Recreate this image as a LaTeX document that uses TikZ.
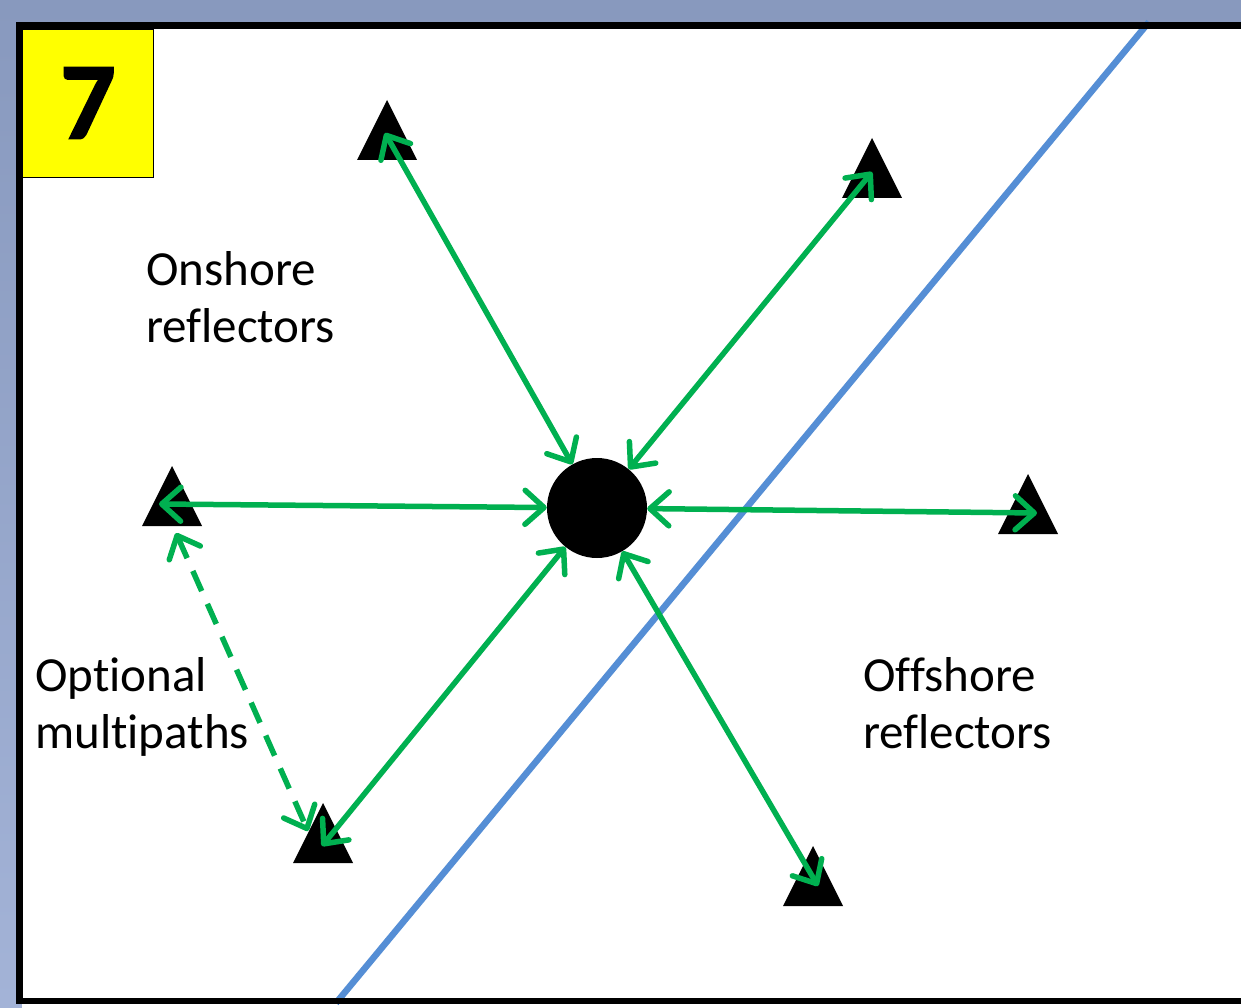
\documentclass[tikz,border=0pt]{standalone}
\usepackage{fontspec}
\setmainfont{Carlito}[Ligatures=NoCommon]
\newfontfamily\numfont{Carlito}[BoldFeatures={FakeBold=1.5}]
\usetikzlibrary{arrows.meta,calc}
\definecolor{bgtop}{RGB}{136,153,190}
\definecolor{bgbot}{RGB}{163,179,215}
\definecolor{arrowgreen}{RGB}{0,176,80}
\definecolor{coastblue}{RGB}{85,142,213}
\definecolor{numyellow}{RGB}{255,255,0}
\tikzset{
  barb/.tip={Straight Barb[length=19pt,width=34pt,round]},
  link/.style={draw=arrowgreen, line width=5.5pt, barb-barb},
  optlink/.style={link, dash pattern=on 22pt off 14pt},
  refl/.style={fill=black},
  lbl/.style={anchor=north west, inner sep=0pt, align=left, font=\fontsize{49}{57}\selectfont},
}
\begin{document}
\begin{tikzpicture}[x=1pt,y=-1pt]
\useasboundingbox (0,0) rectangle (1241,1008);
% background and panel
\shade[top color=bgtop, bottom color=bgbot] (0,0) rectangle (1241,1008);
\fill[white] (22,29) rectangle (1241,1008);
% coastline
\coordinate (coastS) at (336,1003);
\coordinate (coastN) at (1149,22);
\draw[coastblue, line width=6.5pt] (coastS) -- (coastN);
% frame
\draw[black, line width=6.5pt] (1250,25.5) -- (19.5,25.5) -- (19.5,1001) -- (1250,1001);
% number box
\node[draw=black, line width=1.2pt, fill=numyellow, minimum width=131pt, minimum height=148pt, inner sep=0pt, anchor=north west] (num) at (22,29) {};
\node[font=\fontsize{110}{110}\numfont\bfseries, inner sep=0pt] (seven) at (88,103) {7};
% reflectors (apex coordinates)
\coordinate (t1) at (387,100);
\coordinate (t2) at (872,138);
\coordinate (t3) at (172,466);
\coordinate (t4) at (1028,474);
\coordinate (t5) at (323,803);
\coordinate (t6) at (813,846);
\foreach \t in {t1,t2,t3,t4,t5,t6}{
  \fill[refl] (\t) -- ++(-30,60) -- ++(60,0) -- cycle;
}
% receiver
\node[circle, fill=black, minimum size=100pt, inner sep=0pt] (c) at (597,508) {};
% arrow end points inside the reflectors
\coordinate (e1) at (385,133);
\coordinate (e2) at (872,172);
\coordinate (e3) at (159,504);
\coordinate (e4) at (1037,513);
\coordinate (e5) at (322,846);
\coordinate (e6) at (818,886);
\coordinate (d3) at (176,533);
\coordinate (d5) at (308,831);
\draw[link] (e1) -- (c);
\draw[link] (e2) -- (c);
\draw[link] (e3) -- (c);
\draw[link] (c) -- (e4);
\draw[link] (c) -- (e5);
\draw[link] (c) -- (e6);
\draw[optlink] (d3) -- (d5);
% labels
\node[lbl] (onshore) at (146,251) {Onshore\\reflectors};
\node[lbl] (optional) at (35,657) {Optional\\multipaths};
\node[lbl] (offshore) at (863,657) {Offshore\\reflectors};
\end{tikzpicture}
\end{document}
